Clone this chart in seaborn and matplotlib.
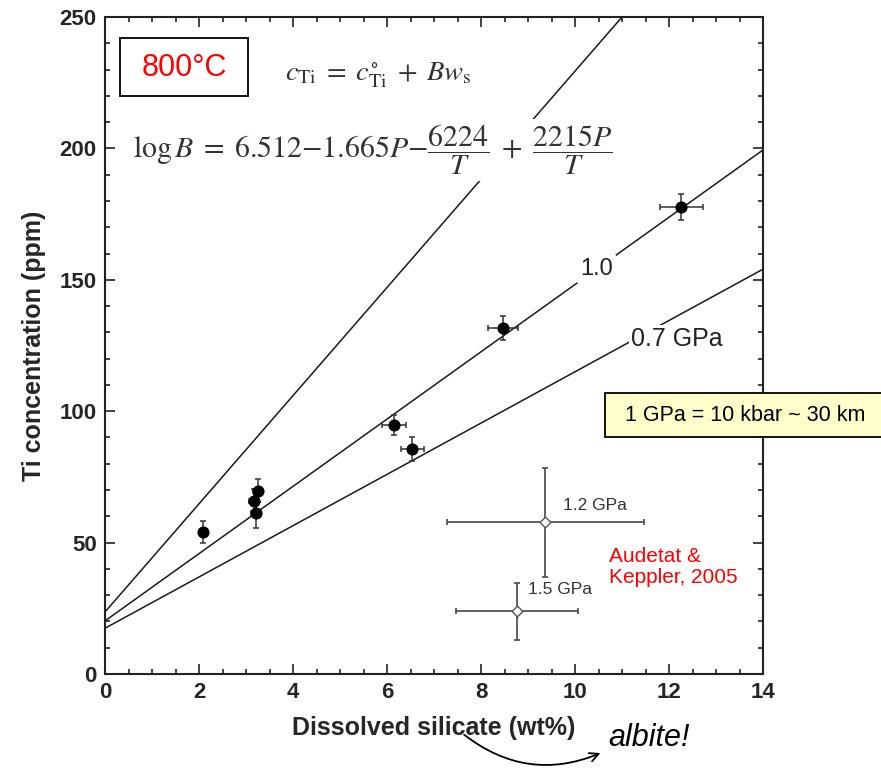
import numpy as np
import pandas as pd
import matplotlib
matplotlib.use('Agg')
import matplotlib.pyplot as plt
from matplotlib.patches import Rectangle
from matplotlib.ticker import MultipleLocator
import seaborn as sns

# experiments at 800 C: dissolved silicate (wt%) vs Ti (ppm)
sil_wt = [2.08, 3.21, 3.17, 3.25, 6.15, 6.54, 8.47, 12.26]
ti_ppm = [54.0, 61.2, 66.0, 69.8, 94.8, 85.6, 131.8, 177.6]
sil_err = [0.0, 0.1, 0.1, 0.1, 0.25, 0.25, 0.32, 0.46]
ti_err = [4.1, 5.5, 4.5, 4.4, 3.8, 4.6, 4.6, 4.9]

# Audetat & Keppler (2005)
ak_sil = [9.37, 8.77]
ak_ti = [57.7, 23.8]
ak_sil_err = [2.1, 1.3]
ak_ti_err = [20.7, 11.0]
ak_labels = ['1.2 GPa', '1.5 GPa']

# model lines c_Ti = c0 + B*w_s
line_P = ['1.5', '1.0', '0.7 GPa']
line_c0 = [23.6, 20.2, 17.4]
line_B = [20.58, 12.8, 9.76]

x_ticks = [0, 2, 4, 6, 8, 10, 12, 14]
y_ticks = [0, 50, 100, 150, 200, 250]

sns.set_style('ticks')
plt.rcParams['font.family'] = ['Liberation Sans', 'DejaVu Sans']
plt.rcParams['mathtext.fontset'] = 'stix'

W, H = 881, 769
fig = plt.figure(figsize=(W / 100, H / 100), dpi=100)
ax = fig.add_axes([105 / W, 1 - 674 / H, (763 - 105) / W, (674 - 17) / H])

def fx(px):
    return px / W

def fy(py):
    return 1 - py / H

# model lines
xs = np.array([0.0, 14.0])
rows = []
for name, c0, b in zip(line_P, line_c0, line_B):
    for x in xs:
        rows.append({'P': name, 'x': x, 'y': c0 + b * x})
lines_df = pd.DataFrame(rows)
sns.lineplot(data=lines_df, x='x', y='y', units='P', estimator=None,
             color='#1a1a1a', lw=1.1, ax=ax, zorder=1)

# experiments
ax.errorbar(sil_wt, ti_ppm, xerr=sil_err, yerr=ti_err, fmt='none',
            ecolor='#333333', elinewidth=1.1, capsize=2.5, capthick=1.1, zorder=3)
pts = pd.DataFrame({'sil': sil_wt, 'ti': ti_ppm})
sns.scatterplot(data=pts, x='sil', y='ti', color='black', s=65,
                edgecolor='black', ax=ax, zorder=4)

# Audetat & Keppler points
ax.errorbar(ak_sil, ak_ti, xerr=ak_sil_err, yerr=ak_ti_err, fmt='none',
            ecolor='#555555', elinewidth=1.3, capsize=2.5, capthick=1.3, zorder=3)
ak = pd.DataFrame({'sil': ak_sil, 'ti': ak_ti})
sns.scatterplot(data=ak, x='sil', y='ti', marker='D', color='white', s=30,
                edgecolor='#555555', linewidth=1.0, ax=ax, zorder=4)
ax.text(ak_sil[0] + 0.38, ak_ti[0] + 6.5, ak_labels[0], fontsize=12.5,
        color='#333333', ha='left', va='center')
ax.text(ak_sil[1] + 0.22, ak_ti[1] + 8.5, ak_labels[1], fontsize=12.5,
        color='#333333', ha='left', va='center')

# line labels (white box makes the gap in the line)
ax.text(10.46, 154.0, '1.0', fontsize=17, color='#222222', ha='center', va='center',
        bbox=dict(facecolor='white', edgecolor='none', pad=2), zorder=2)
ax.text(12.16, 127.5, '0.7 GPa', fontsize=18, color='#222222', ha='center', va='center',
        bbox=dict(facecolor='white', edgecolor='none', pad=1), zorder=2)

ax.set_xlim(0, 14)
ax.set_ylim(0, 250)
ax.set_xticks(x_ticks)
ax.set_yticks(y_ticks)
ax.xaxis.set_minor_locator(MultipleLocator(0.5))
ax.yaxis.set_minor_locator(MultipleLocator(10))
ax.tick_params(which='both', direction='in', top=True, right=True,
               width=1.2, color='#222222')
ax.tick_params(which='major', length=7.5, pad=6)
ax.tick_params(which='minor', length=3.5)
for lab in ax.get_xticklabels() + ax.get_yticklabels():
    lab.set_fontweight('bold')
    lab.set_fontsize(16)
for sp in ax.spines.values():
    sp.set_linewidth(1.5)
    sp.set_color('#222222')

ax.set_xlabel('Dissolved silicate (wt%)', fontsize=18, fontweight='bold', labelpad=9)
ax.set_ylabel('Ti concentration (ppm)', fontsize=18, fontweight='bold', labelpad=10)

# equations
fig.text(fx(285), fy(75),
         r'$c_{\mathrm{Ti}} \;=\; c^{\circ}_{\mathrm{Ti}} \;+\; Bw_{\mathrm{s}}$',
         fontsize=20.5, color='#333333', ha='left', va='center')
fig.text(fx(133), fy(150),
         r'$\log B \;=\; 6.512{-}1.665P{-}\dfrac{6224}{T} \;+\; \dfrac{2215P}{T}$',
         fontsize=21.5, color='#333333', ha='left', va='center',
         bbox=dict(facecolor='white', edgecolor='none', pad=3), zorder=5)

# 800 C box
fig.patches.append(Rectangle((fx(120), fy(96)), fx(248) - fx(120), fy(38) - fy(96),
                             transform=fig.transFigure, facecolor='white',
                             edgecolor='black', lw=1.3, zorder=5))
fig.text(fx(184), fy(68), '800°C', fontsize=22, color='red', ha='center', va='center', zorder=6)

# conversion box
fig.patches.append(Rectangle((fx(605), fy(437)), fx(890) - fx(605), fy(393) - fy(437),
                             transform=fig.transFigure, facecolor='#ffffcc',
                             edgecolor='black', lw=1.3, zorder=5))
fig.text(fx(745), fy(415), '1 GPa = 10 kbar ~ 30 km', fontsize=15.5, color='black',
         ha='center', va='center', zorder=6)

fig.text(fx(609), fy(567), 'Audetat &\nKeppler, 2005', fontsize=15, color='red',
         ha='left', va='center', linespacing=1.1)

# albite note
fig.text(fx(608), fy(738), 'albite!', fontsize=22, style='italic', color='black',
         ha='left', va='center')
ax.annotate('', xy=(fx(603), fy(752)), xytext=(fx(462), fy(733)),
            xycoords='figure fraction', textcoords='figure fraction',
            arrowprops=dict(arrowstyle='->', color='black', lw=1.3,
                            connectionstyle='arc3,rad=0.3', mutation_scale=16),
            annotation_clip=False)

fig.savefig('out.png', dpi=100, facecolor='white')
